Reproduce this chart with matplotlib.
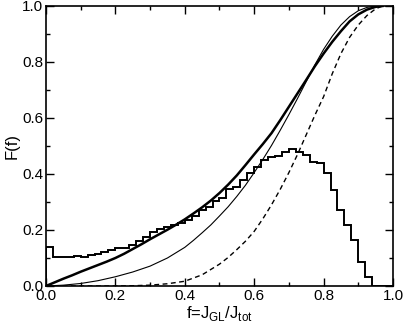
import numpy as np
import matplotlib
matplotlib.use("Agg")
from matplotlib import pyplot as plt
from matplotlib.ticker import MultipleLocator, FormatStrFormatter

plt.rcParams['font.family'] = ['Liberation Sans', 'DejaVu Sans']
plt.rcParams['mathtext.fontset'] = 'custom'
plt.rcParams['mathtext.rm'] = 'Liberation Sans'

# histogram, bins of width 0.02 from 0 to 1
hist_vals = [0.140, 0.105, 0.105, 0.105, 0.107, 0.104, 0.110, 0.115, 0.120, 0.130,
             0.134, 0.137, 0.146, 0.160, 0.175, 0.194, 0.204, 0.212, 0.218, 0.226,
             0.236, 0.250, 0.271, 0.283, 0.305, 0.313, 0.345, 0.355, 0.379, 0.402,
             0.426, 0.450, 0.462, 0.464, 0.479, 0.489, 0.479, 0.468, 0.443, 0.440,
             0.404, 0.343, 0.271, 0.218, 0.164, 0.086, 0.032, 0.0, 0.0, 0.0]
hist_edges = np.linspace(0, 1, len(hist_vals) + 1)

# thick solid curve
f_thick = [0.0, 0.025, 0.05, 0.075, 0.1, 0.125, 0.15, 0.175, 0.2, 0.225, 0.25, 0.275,
           0.3, 0.325, 0.35, 0.375, 0.4, 0.425, 0.45, 0.475, 0.5, 0.525, 0.55, 0.575,
           0.6, 0.625, 0.65, 0.675, 0.7, 0.725, 0.75, 0.775, 0.8, 0.825, 0.85, 0.875,
           0.9, 0.925, 0.95, 0.97]
F_thick = [0.0, 0.013, 0.026, 0.038, 0.051, 0.063, 0.075, 0.087, 0.100, 0.115, 0.132,
           0.149, 0.167, 0.184, 0.201, 0.219, 0.238, 0.259, 0.281, 0.305, 0.332, 0.362,
           0.395, 0.432, 0.470, 0.507, 0.546, 0.592, 0.640, 0.688, 0.736, 0.785, 0.830,
           0.872, 0.910, 0.945, 0.970, 0.987, 0.997, 1.0]

# thin solid curve
f_thin = [0.0, 0.05, 0.1, 0.15, 0.2, 0.25, 0.3, 0.35, 0.4, 0.425, 0.45, 0.475, 0.5,
          0.525, 0.55, 0.575, 0.6, 0.625, 0.65, 0.675, 0.7, 0.725, 0.75, 0.775, 0.8,
          0.825, 0.85, 0.875, 0.9, 0.925, 0.95, 0.97]
F_thin = [0.0, 0.003, 0.009, 0.019, 0.033, 0.050, 0.071, 0.100, 0.138, 0.163, 0.190,
          0.218, 0.250, 0.283, 0.320, 0.360, 0.405, 0.452, 0.502, 0.556, 0.612, 0.670,
          0.730, 0.790, 0.845, 0.892, 0.932, 0.962, 0.983, 0.995, 1.0, 1.0]

# dashed curve
f_dash = [0.0, 0.2, 0.25, 0.3, 0.35, 0.4, 0.45, 0.5, 0.525, 0.55, 0.575, 0.6, 0.625,
          0.65, 0.675, 0.7, 0.725, 0.75, 0.775, 0.8, 0.825, 0.85, 0.875, 0.9, 0.925,
          0.95, 0.97, 1.0]
F_dash = [0.0, 0.0, 0.001, 0.003, 0.008, 0.017, 0.040, 0.078, 0.102, 0.130, 0.160,
          0.195, 0.240, 0.290, 0.345, 0.405, 0.470, 0.540, 0.610, 0.676, 0.758, 0.830,
          0.888, 0.932, 0.966, 0.990, 1.0, 1.0]

fig = plt.figure(figsize=(4.03, 3.26), dpi=100)
ax = fig.add_axes([0.1141, 0.1227, 0.861, 0.8589])

ax.stairs(hist_vals, hist_edges, color="k", lw=1.4)
ax.plot(f_thick, F_thick, "k", lw=1.8)
ax.plot(f_thin, F_thin, "k", lw=0.8)
ax.plot(f_dash, F_dash, "k--", lw=1.0, dashes=(3.5, 2.5))

ax.set_xlim(0, 1)
ax.set_ylim(0, 1)
ax.xaxis.set_major_locator(MultipleLocator(0.2))
ax.xaxis.set_minor_locator(MultipleLocator(0.1))
ax.yaxis.set_major_locator(MultipleLocator(0.2))
ax.yaxis.set_minor_locator(MultipleLocator(0.1))
ax.xaxis.set_major_formatter(FormatStrFormatter("%.1f"))
ax.yaxis.set_major_formatter(FormatStrFormatter("%.1f"))
ax.tick_params(which="both", direction="in", top=True, right=True, labelsize=11, width=1)
ax.tick_params(which="major", length=6, pad=2)
ax.tick_params(which="minor", length=3)
for s in ax.spines.values():
    s.set_linewidth(1.2)

ax.set_xlabel(r"f=J$_\mathregular{GL}$/J$_\mathregular{tot}$", fontsize=12, labelpad=1)
ax.set_ylabel("F(f)", fontsize=12)
ax.yaxis.set_label_coords(-0.075, 0.5)

fig.savefig("out.png", dpi=100)
